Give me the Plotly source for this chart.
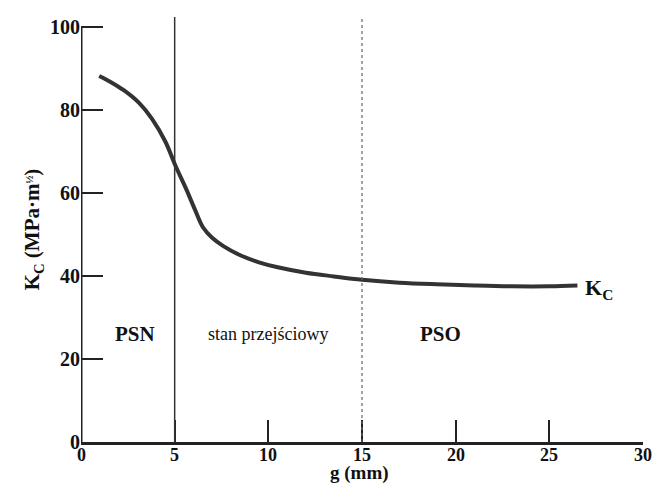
import plotly.graph_objects as go

# Data
g_mm = [0.97, 1.6, 2.3, 3.1, 3.8, 4.5, 5.05, 5.6, 6.1, 6.5, 7.0, 7.6, 8.5, 9.5, 10.5, 12.0, 13.5, 15.0, 17.0, 19.0, 21.0, 23.0, 25.0, 26.5]
kc = [88.2, 86.7, 84.7, 81.7, 77.8, 72.4, 66.5, 61.1, 55.8, 51.8, 49.2, 47.2, 45.0, 43.3, 42.1, 40.8, 39.9, 39.1, 38.4, 38.0, 37.7, 37.5, 37.5, 37.7]

region_bounds = [5, 15]
region_labels = ["<b>PSN</b>", "stan przejściowy", "<b>PSO</b>"]
region_label_x = [2.87, 10.0, 19.2]
region_label_y = 26.0

x_ticks = [0, 5, 10, 15, 20, 25, 30]
x_tick_text = ["0", "5", "10", "15", "20", "25", "30"]
y_ticks = [0, 20, 40, 60, 80, 100]

FONT = "Times New Roman, Liberation Serif, serif"
INK = "#222222"

fig = go.Figure()
fig.add_trace(go.Scatter(
    x=g_mm, y=kc, mode="lines",
    line=dict(color="#333333", width=4, shape="spline", smoothing=1.0),
    hoverinfo="skip", showlegend=False,
))

# y axis line (0..100)
fig.add_shape(type="line", x0=0, x1=0, y0=0, y1=100, xref="x", yref="y",
              line=dict(color=INK, width=3))
# region boundaries
fig.add_shape(type="line", x0=region_bounds[0], x1=region_bounds[0], y0=0, y1=102.4,
              xref="x", yref="y", line=dict(color="#333333", width=1.5))
fig.add_shape(type="line", x0=region_bounds[1], x1=region_bounds[1], y0=0, y1=102.4,
              xref="x", yref="y", line=dict(color="#666666", width=1.2, dash="dot"))

for lbl, lx in zip(region_labels, region_label_x):
    size = 21 if lbl.startswith("<b>") else 18
    fig.add_annotation(x=lx, y=region_label_y, text=lbl, showarrow=False,
                       font=dict(family=FONT, size=size, color="#111111"))

fig.add_annotation(x=g_mm[-1] + 0.3, y=kc[-1] - 0.8, text="<b>K<sub>C</sub></b>", showarrow=False,
                   xanchor="left", font=dict(family=FONT, size=22, color="#111111"))

# x tick labels (placed close under the axis as in the reference)
for xv, xt in zip(x_ticks, x_tick_text):
    fig.add_annotation(x=xv, xref="x", y=0, yref="paper", yanchor="middle", yshift=-13,
                       text="<b>" + xt + "</b>", showarrow=False,
                       font=dict(family=FONT, size=18, color="#111111"))

# x axis title
fig.add_annotation(x=14.85, xref="x", y=0, yref="paper", yanchor="middle", yshift=-31,
                   text="<b>g (mm)</b>", showarrow=False,
                   font=dict(family=FONT, size=19, color="#111111"))

fig.update_layout(
    width=661, height=488,
    margin=dict(l=81, r=18, t=17, b=46),
    paper_bgcolor="white", plot_bgcolor="white",
    font=dict(family=FONT, color="#111111"),
    xaxis=dict(
        range=[0, 30], tickvals=x_ticks, ticks="inside", ticklen=22, tickwidth=2,
        tickcolor=INK, showline=True, linecolor=INK, linewidth=3, showgrid=False,
        zeroline=False, showticklabels=False, automargin=False,
    ),
    yaxis=dict(
        range=[0, 102.4], tickvals=y_ticks, ticks="inside", ticklen=22, tickwidth=2,
        tickcolor=INK, showline=False, showgrid=False, zeroline=False,
        tickfont=dict(family=FONT, size=20, weight="bold"), automargin=False,
        title=dict(text="<b>K<sub>C</sub> (MPa·m<span style='font-size:15px'><sup>½</sup></span>)</b>",
                   font=dict(family=FONT, size=21), standoff=4),
    ),
)

fig.write_html("out.html")
